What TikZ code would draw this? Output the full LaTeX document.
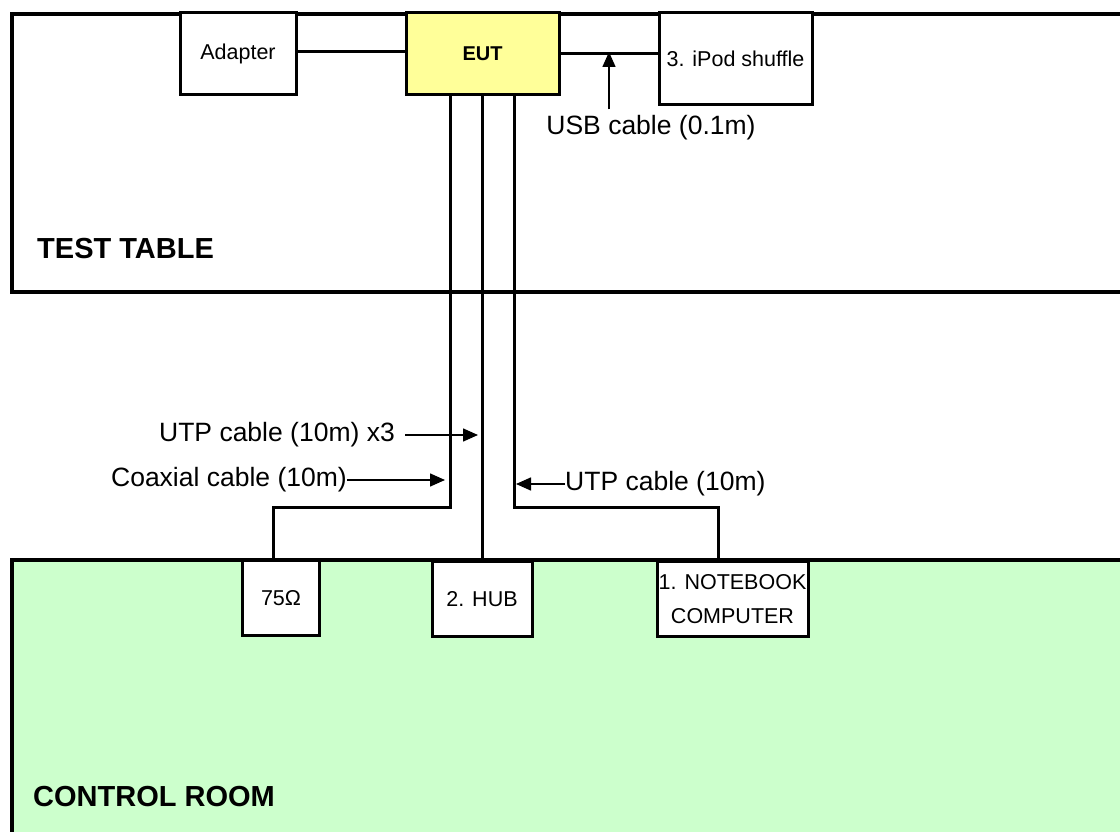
\documentclass[tikz,border=0pt]{standalone}
\usepackage{fontspec}
\setmainfont{Liberation Sans}
\usetikzlibrary{arrows.meta}
\begin{document}
\begin{tikzpicture}[x=1pt,y=-1pt,
  room/.style={line width=4pt},
  box/.style={draw,line width=3pt,fill=white,inner sep=0pt,align=center,font=\fontsize{21.5}{34}\selectfont},
  cable/.style={line width=3pt},
  lbl/.style={inner sep=0pt,font=\fontsize{26.5}{30}\selectfont},
  title/.style={inner sep=0pt,anchor=west,font=\fontsize{29}{32}\selectfont\bfseries},
  pointer/.style={line width=1.5pt,-{Triangle[length=15pt,width=13pt]}}]
\clip (0,0) rectangle (1120,832);
\fill[white] (0,0) rectangle (1120,832);
% rooms
\draw[room,fill=white] (12,14) rectangle (1140,292);
\draw[room,fill={rgb,255:red,204;green,255;blue,204}] (12,560) rectangle (1140,850);
\node[title] (tt) at (37,249) {TEST TABLE};
\node[title] (cr) at (33,797) {CONTROL ROOM};
% top devices
\node[box,minimum width=116pt,minimum height=82pt] (adapter) at (238,54) {Adapter};
\node[box,fill={rgb,255:red,255;green,255;blue,153},minimum width=153pt,minimum height=82pt,font=\fontsize{20}{24}\selectfont\bfseries] (eut) at (482.5,54) {EUT};
\node[box,minimum width=153pt,minimum height=92pt] (ipod) at (735.5,59) {3. iPod shuffle};
% bottom devices
\node[box,minimum width=77pt,minimum height=75pt] (ohm) at (281,598) {75Ω};
\node[box,minimum width=100pt,minimum height=75pt] (hub) at (482,599) {2. HUB};
\node[box,minimum width=151pt,minimum height=75pt] (nb) at (732.5,599) {1. NOTEBOOK\\COMPUTER};
% cable routing columns
\coordinate (c1) at (450,0);
\coordinate (c2) at (482,0);
\coordinate (c3) at (514,0);
\coordinate (r1) at (273,507);
\coordinate (r3) at (718,507);
\draw[cable] (adapter.east |- 0,52) -- (eut.west |- 0,52);
\draw[cable] (eut.east |- 0,54) -- (ipod.west |- 0,54);
\draw[cable] (eut.south -| c1) |- (r1) -- (ohm.north -| r1);
\draw[cable] (eut.south -| c2) -- (hub.north -| c2);
\draw[cable] (eut.south -| c3) |- (r3) -- (nb.north -| r3);
% labels and pointers
\node[lbl] (usb) at (651,128) {USB cable (0.1m)};
\coordinate (usbtip) at (609,55);
\draw[pointer] (usb.north -| usbtip) ++(0,-6) -- ([yshift=3pt]usbtip);
\node[lbl,anchor=east] (utp3) at (395,435) {UTP cable (10m) x3};
\coordinate (utp3tip) at (478,435);
\draw[pointer] ([xshift=10pt]utp3.east) -- (utp3tip);
\node[lbl,anchor=east] (coax) at (347,480) {Coaxial cable (10m)};
\coordinate (coaxtip) at (445,480);
\draw[pointer] (coax.east) -- (coaxtip);
\node[lbl,anchor=west] (utp1) at (565,484) {UTP cable (10m)};
\coordinate (utp1tip) at (516,484);
\draw[pointer] (utp1.west) -- (utp1tip);
\end{tikzpicture}
\end{document}
